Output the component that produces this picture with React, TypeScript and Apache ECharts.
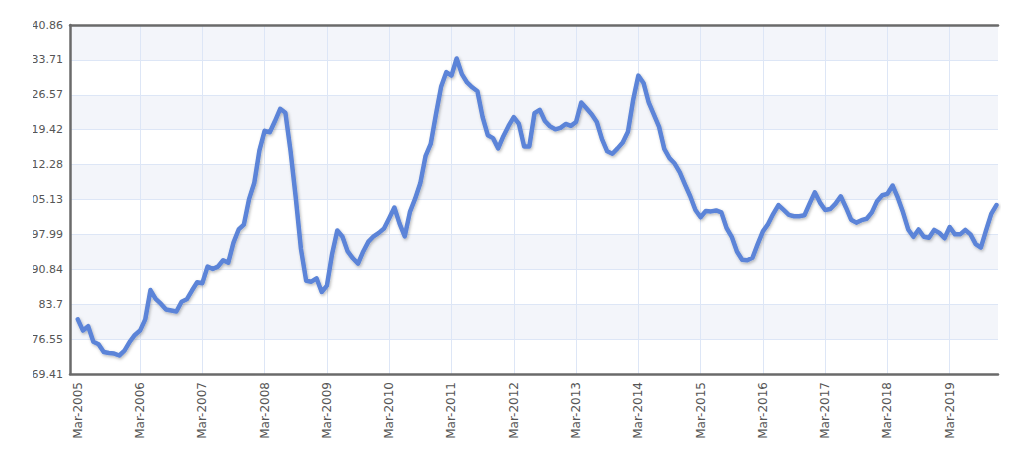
import React, { useEffect, useRef } from "react";
import * as echarts from "echarts";

// Tick labels
const xTickLabels = [
  "Mar-2005", "Mar-2006", "Mar-2007", "Mar-2008", "Mar-2009", "Mar-2010", "Mar-2011", "Mar-2012",
  "Mar-2013", "Mar-2014", "Mar-2015", "Mar-2016", "Mar-2017", "Mar-2018", "Mar-2019",
];
const yTicks = [69.41, 76.55, 83.7, 90.84, 97.99, 105.13, 112.28, 119.42, 126.57, 133.71, 140.86];

// Monthly values, Mar-2005 .. Dec-2019
const values2005to2009 = [
  80.6, 78.3, 79.2, 76.0, 75.5, 73.9, 73.7, 73.6, 73.2, 74.2, 76.0, 77.4,
  78.3, 80.6, 86.6, 84.8, 83.8, 82.6, 82.4, 82.2, 84.2, 84.7, 86.5, 88.2,
  88.0, 91.4, 90.9, 91.4, 92.7, 92.2, 96.3, 99.0, 100.0, 105.2, 108.5, 115.2,
  119.2, 118.9, 121.2, 123.7, 122.9, 115.0, 105.5, 95.0, 88.5, 88.3, 89.0, 86.2,
  87.5, 94.0, 98.8, 97.5, 94.5, 93.1, 92.0, 94.5, 96.5, 97.6, 98.3, 99.2,
];
const values2010to2014 = [
  101.3, 103.5, 100.2, 97.6, 102.6, 105.3, 108.5, 114.0, 116.5, 122.5, 128.2, 131.2,
  130.5, 134.0, 130.8, 129.1, 128.1, 127.3, 122.0, 118.3, 117.7, 115.6, 118.1, 120.2,
  122.0, 120.6, 116.0, 116.0, 122.8, 123.5, 121.2, 120.1, 119.5, 119.8, 120.6, 120.2,
  121.0, 125.0, 123.8, 122.6, 121.0, 117.5, 115.0, 114.5, 115.6, 116.8, 119.0, 125.5,
  130.5, 129.0, 125.0, 122.5, 120.0, 115.5, 113.6, 112.5, 110.7, 108.2, 105.8, 103.0,
];
const values2015to2019 = [
  101.5, 102.8, 102.7, 102.9, 102.5, 99.3, 97.5, 94.5, 92.8, 92.7, 93.2, 96.0,
  98.6, 100.1, 102.2, 104.0, 103.0, 102.0, 101.7, 101.7, 101.9, 104.3, 106.6, 104.5,
  103.0, 103.2, 104.3, 105.8, 103.5, 101.0, 100.4, 100.9, 101.2, 102.5, 104.8, 106.0,
  106.3, 108.0, 105.5, 102.5, 99.0, 97.5, 99.0, 97.5, 97.3, 98.9, 98.3, 97.2,
  99.5, 98.0, 98.0, 98.9, 98.0, 96.0, 95.3, 98.8, 102.2, 104.0,
];
const values = [...values2005to2009, ...values2010to2014, ...values2015to2019];

const FONT = "'DejaVu Sans', Verdana, sans-serif";
const AXIS_COLOR = "#6a6a6a";
const GRID_COLOR = "#dde6f6";

export default function App() {
  const ref = useRef<HTMLDivElement>(null);

  useEffect(() => {
    if (!ref.current) return;
    const chart = echarts.init(ref.current, null, { renderer: "svg" });
    const xTickPos = xTickLabels.map((_, i) => i * 12);
    const data = values.map((v, i) => [i, v]);
    const axisLineStyle = { color: AXIS_COLOR, width: 2.5 };
    chart.setOption({
      animation: false,
      backgroundColor: "#ffffff",
      grid: {
        left: 70,
        top: 25,
        right: 26,
        bottom: 81,
        containLabel: false,
        outerBoundsMode: "none",
      },
      xAxis: [
        {
          type: "value",
          min: -1.5,
          max: 177.3,
          axisLine: { show: true, onZero: false, lineStyle: axisLineStyle },
          axisTick: { show: false, customValues: xTickPos.slice(1) },
          axisLabel: {
            customValues: xTickPos,
            formatter: (v: number) => xTickLabels[Math.round(v / 12)] ?? "",
            rotate: 90,
            margin: 8,
            fontSize: 12,
            fontFamily: FONT,
            color: "#555555",
          },
          splitLine: { show: true, lineStyle: { color: GRID_COLOR, width: 1 } },
          splitArea: { show: false },
        },
        {
          type: "value",
          position: "top",
          min: -1.5,
          max: 177.3,
          axisLine: { show: true, onZero: false, lineStyle: axisLineStyle },
          axisTick: { show: false },
          axisLabel: { show: false },
          splitLine: { show: false },
        },
      ],
      yAxis: {
        type: "value",
        min: 69.41,
        max: 140.86,
        axisLine: { show: true, onZero: false, lineStyle: axisLineStyle },
        axisTick: { show: false, customValues: yTicks },
        axisLabel: {
          customValues: yTicks,
          formatter: (v: number) => String(v),
          margin: 7,
          fontSize: 11,
          fontFamily: FONT,
          color: "#555555",
        },
        splitLine: { show: true, lineStyle: { color: GRID_COLOR, width: 1 } },
        splitArea: { show: true, areaStyle: { color: ["#ffffff", "#f3f5fa"] } },
      },
      series: [
        {
          type: "line",
          xAxisIndex: 0,
          data,
          showSymbol: false,
          symbol: "none",
          lineStyle: {
            color: "#5b84d8",
            width: 4.5,
            cap: "round",
            join: "round",
            shadowColor: "rgba(0,0,0,0.28)",
            shadowBlur: 3,
            shadowOffsetX: 1,
            shadowOffsetY: 1.5,
          },
        },
      ],
    });
    return () => chart.dispose();
  }, []);

  return (
    <div
      style={{
        position: "absolute",
        left: 33,
        top: 0,
        width: 991,
        height: 455,
        overflow: "hidden",
        background: "#ffffff",
      }}
    >
      <div
        ref={ref}
        style={{ position: "absolute", left: -33, top: 0, width: 1024, height: 455 }}
      />
    </div>
  );
}
